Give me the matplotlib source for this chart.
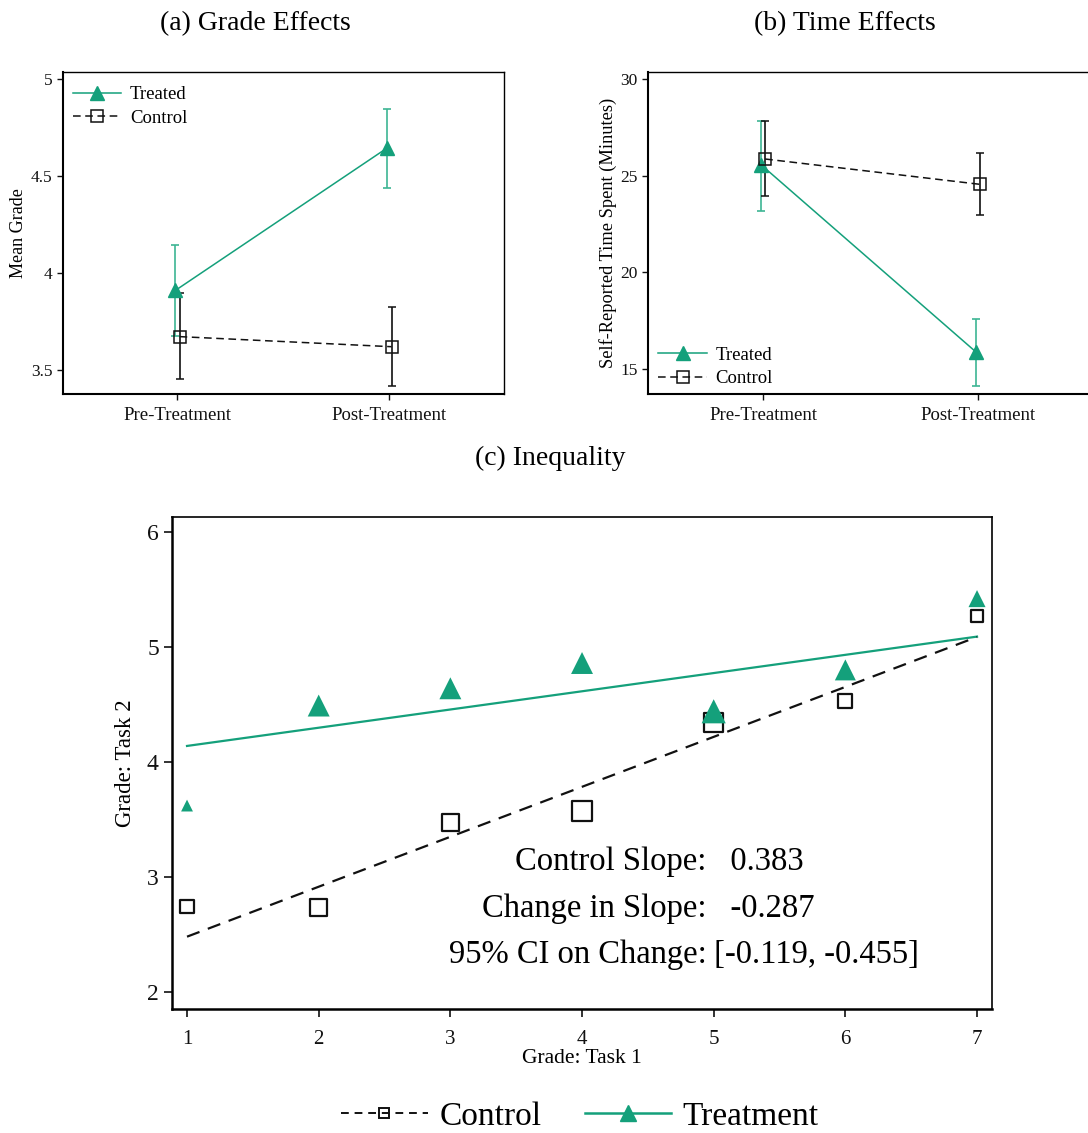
import matplotlib
matplotlib.use("Agg")
import matplotlib.pyplot as plt
from matplotlib.lines import Line2D

plt.rcParams['font.family'] = ['Liberation Serif', 'DejaVu Serif']

TEAL = '#14a07b'
BLACK = '#111111'

# ---- (a) Grade effects: mean grade with 95% CI ----
periods = ['Pre-Treatment', 'Post-Treatment']
grade_treated = [3.91, 4.645]
grade_treated_lo = [3.675, 4.44]
grade_treated_hi = [4.145, 4.845]
grade_control = [3.672, 3.62]
grade_control_lo = [3.454, 3.417]
grade_control_hi = [3.897, 3.826]

# ---- (b) Time effects: self-reported minutes with 95% CI ----
time_treated = [25.57, 15.89]
time_treated_lo = [23.16, 14.12]
time_treated_hi = [27.8, 17.61]
time_control = [25.86, 24.55]
time_control_lo = [23.93, 22.94]
time_control_hi = [27.83, 26.19]

# ---- (c) Inequality: binned Task 2 grade by Task 1 grade ----
task1_grade = [1, 2, 3, 4, 5, 6, 7]
treated_task2 = [3.62, 4.49, 4.64, 4.86, 4.44, 4.80, 5.42]
control_task2 = [2.74, 2.73, 3.47, 3.57, 4.34, 4.53, 5.27]
treated_n = [14, 48, 48, 48, 58, 44, 29]
control_n = [17, 29, 29, 40, 36, 20, 14]
# fitted lines (intercept, slope)
treated_fit = (3.98, 0.1585)
control_fit = (2.045, 0.4345)
stat_labels = ['Control Slope:', 'Change in Slope:', '95% CI on Change:']
stat_values = ['0.383', '-0.287', '[-0.119, -0.455]']

fig = plt.figure(figsize=(10.88, 11.33), dpi=100)


def style_small(ax):
    for s in ['left', 'bottom']:
        ax.spines[s].set_linewidth(1.5)
    for s in ['top', 'right']:
        ax.spines[s].set_linewidth(1.0)
    ax.tick_params(direction='out', length=4, width=1, labelsize=12.5,
                   colors=BLACK, top=False, right=False)
    ax.tick_params(axis='x', labelsize=13.5, pad=5)


def ci_panel(ax, tr, tr_lo, tr_hi, co, co_lo, co_hi):
    xt = [-0.01, 0.99]
    xc = [0.01, 1.01]
    ax.errorbar(xt, tr,
                yerr=[[m - l for m, l in zip(tr, tr_lo)], [h - m for m, h in zip(tr, tr_hi)]],
                color=TEAL, ecolor='#3db593', elinewidth=1.2, capsize=3, capthick=1.2,
                marker='^', markersize=10, lw=1.1, zorder=3)
    ax.errorbar(xc, co,
                yerr=[[m - l for m, l in zip(co, co_lo)], [h - m for m, h in zip(co, co_hi)]],
                color=BLACK, ecolor=BLACK, elinewidth=1.2, capsize=3, capthick=1.2,
                marker='s', markersize=8, markerfacecolor='none', markeredgewidth=1.1,
                lw=1.1, ls=(0, (5, 3)), zorder=3)
    ax.set_xticks([0, 1])
    ax.set_xticklabels(periods)
    ax.set_xlim(-0.54, 1.54)


def small_handles():
    return [
        Line2D([], [], color=TEAL, lw=1.1, marker='^', markersize=10),
        Line2D([], [], color=BLACK, lw=1.1, ls=(0, (5, 3)), marker='s', markersize=8,
               markerfacecolor='none', markeredgewidth=1.1),
    ]


legend_kw = dict(frameon=False, fontsize=13.5, handlelength=2.6,
                 handletextpad=0.45, labelspacing=0.35)

# Panel (a)
ax_a = fig.add_axes([0.0579, 0.6522, 0.4053, 0.2843])
ci_panel(ax_a, grade_treated, grade_treated_lo, grade_treated_hi,
         grade_control, grade_control_lo, grade_control_hi)
ax_a.set_ylim(3.376, 5.036)
ax_a.set_yticks([3.5, 4, 4.5, 5])
ax_a.set_yticklabels(['3.5', '4', '4.5', '5'])
ax_a.set_ylabel('Mean Grade', fontsize=13, labelpad=3)
style_small(ax_a)
ax_a.legend(small_handles(), ['Treated', 'Control'], loc='upper left',
            borderaxespad=0.4, bbox_to_anchor=(-0.012, 1.003), **legend_kw)
fig.text(0.2344, 0.979, '(a) Grade Effects', ha='center', va='center', fontsize=20)

# Panel (b)
ax_b = fig.add_axes([0.5956, 0.6522, 0.409, 0.2843])
ci_panel(ax_b, time_treated, time_treated_lo, time_treated_hi,
         time_control, time_control_lo, time_control_hi)
ax_b.set_xlim(-0.535, 1.535)
ax_b.set_ylim(13.71, 30.36)
ax_b.set_yticks([15, 20, 25, 30])
ax_b.set_ylabel('Self-Reported Time Spent (Minutes)', fontsize=13.2, labelpad=2)
style_small(ax_b)
ax_b.legend(small_handles(), ['Treated', 'Control'], loc='lower left',
            borderaxespad=0.0, borderpad=0.25, bbox_to_anchor=(0.013, 0.006),
            **legend_kw)
fig.text(0.7767, 0.979, '(b) Time Effects', ha='center', va='center', fontsize=20)

# Panel (c)
ax_c = fig.add_axes([0.1581, 0.1094, 0.7537, 0.4343])
size_scale = 5.2
ax_c.plot([1, 7], [treated_fit[0] + treated_fit[1] * x for x in [1, 7]],
          color=TEAL, lw=1.6, zorder=2)
ax_c.plot([1, 7], [control_fit[0] + control_fit[1] * x for x in [1, 7]],
          color=BLACK, lw=1.6, ls=(0, (6, 4)), zorder=2)
ax_c.scatter(task1_grade, control_task2, s=[n * size_scale for n in control_n],
             marker='s', facecolors='none', edgecolors=BLACK, linewidths=1.6, zorder=3)
ax_c.scatter(task1_grade, treated_task2, s=[n * size_scale for n in treated_n],
             marker='^', color=TEAL, linewidths=0, zorder=4)
ax_c.set_xlim(0.886, 7.114)
ax_c.set_ylim(1.85, 6.13)
ax_c.set_xticks(task1_grade)
ax_c.set_yticks([2, 3, 4, 5, 6])
ax_c.tick_params(axis='x', labelsize=15, length=6, width=1.2, colors=BLACK, pad=9)
ax_c.tick_params(axis='y', labelsize=17, length=6, width=1.2, colors=BLACK)
for s in ['left', 'bottom']:
    ax_c.spines[s].set_linewidth(1.8)
for s in ['top', 'right']:
    ax_c.spines[s].set_linewidth(1.2)
ax_c.set_xlabel('Grade: Task 1', fontsize=15.5, labelpad=0)
ax_c.set_ylabel('Grade: Task 2', fontsize=16.5, labelpad=8)
stat_y = [3.135, 2.725, 2.325]
for lab, val, y in zip(stat_labels, stat_values, stat_y):
    ax_c.text(4.945, y, lab, ha='right', va='center', fontsize=23.5)
    pad = '   ' if not val.startswith('[') else ' '
    ax_c.text(4.945, y, pad + val, ha='left', va='center', fontsize=23.5)
fig.text(0.5055, 0.5957, '(c) Inequality', ha='center', va='center', fontsize=20)

handles = [
    Line2D([], [], color=BLACK, ls=(0, (4, 3)), lw=1.4, marker='s', markersize=7,
           markerfacecolor='none', markeredgewidth=1.4),
    Line2D([], [], color=TEAL, lw=1.8, marker='^', markersize=12),
]
fig.legend(handles, ['Control', 'Treatment'], loc='center', ncol=2,
           bbox_to_anchor=(0.533, 0.0145), frameon=False, fontsize=24,
           handlelength=2.6, handletextpad=0.35, columnspacing=1.3)

fig.savefig('out.png', dpi=100)
